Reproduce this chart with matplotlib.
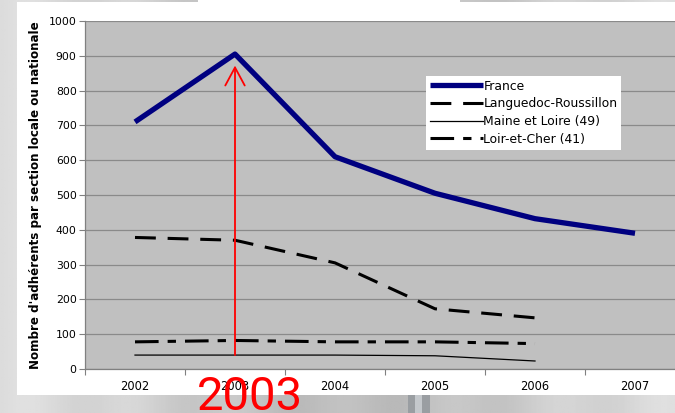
import numpy as np
import matplotlib
matplotlib.use("Agg")
import matplotlib.pyplot as plt
from matplotlib.patches import Rectangle

plt.rcParams['lines.scale_dashes'] = False
plt.rcParams['font.family'] = ['DejaVu Sans']

# ---------------- data ----------------
years = [2002, 2003, 2004, 2005, 2006, 2007]
france = [710, 905, 610, 505, 432, 390]
languedoc = [378, 370, 305, 173, 147]
maine = [40, 40, 40, 38, 23]
loir = [78, 82, 78, 78, 73]
series_labels = ["France", "Languedoc-Roussillon", "Maine et Loire (49)", "Loir-et-Cher (41)"]
y_ticks = [0, 100, 200, 300, 400, 500, 600, 700, 800, 900, 1000]
y_label = "Nombre d'adhérents par section locale ou nationale"
arrow_x = [2003, 2003]
arrow_y = [40, 872]
highlight_text = "2003"

W, H = 675, 413
fig = plt.figure(figsize=(W / 100, H / 100), dpi=100)

# background (brushed metal look)
bg = fig.add_axes([0, 0, 1, 1], zorder=-10)
gx = np.linspace(0, 1, 400)
grad = 0.80 + 0.06 * np.cos(gx * 6) + 0.02 * np.sin(gx * 40)
img = np.tile(grad, (50, 1))
bg.imshow(img, cmap='gray', vmin=0, vmax=1, aspect='auto', extent=[0, 1, 0, 1])
bg.add_patch(Rectangle((408 / W, 0), 22 / W, 18 / H, color='#9a9ea2', lw=0))
bg.add_patch(Rectangle((415 / W, 0), 7 / W, 18 / H, color='#c4c8cc', lw=0))
bg.add_patch(Rectangle((17 / W, (H - 395) / H), 1, (395 - 2) / H, color='white', lw=0))
bg.add_patch(Rectangle((198 / W, (H - 3) / H), (460 - 198) / W, 3 / H, color='white', lw=0))
bg.set_xlim(0, 1); bg.set_ylim(0, 1)
bg.axis('off')

# main axes: x from 2001.5 (px 85) to 2007.5 (px 685)
left, right = 85 / W, 685 / W
bottom, top = (H - 369) / H, (H - 21) / H
ax = fig.add_axes([left, bottom, right - left, top - bottom])
ax.set_facecolor('#c0c0c0')
ax.set_xlim(2001.5, 2007.5)
ax.set_ylim(0, 1000)
ax.set_yticks(y_ticks)
ax.set_yticklabels([str(v) for v in y_ticks], fontsize=7.8)
ax.set_xticks(years)
ax.set_xticklabels([str(y) for y in years], fontsize=8.3)
ax.set_xticks([y - 0.5 for y in years] + [2007.5], minor=True)
ax.tick_params(axis='x', which='major', length=0, pad=8)
ax.tick_params(axis='x', which='minor', length=4, color='#808080', width=0.8)
ax.tick_params(axis='y', length=4, color='#808080', width=0.8, pad=2)
ax.grid(axis='y', color='#8a8a8a', lw=0.9)
ax.set_axisbelow(True)
for s in ['top', 'right']:
    ax.spines[s].set_visible(False)
for s in ['left', 'bottom']:
    ax.spines[s].set_color('#808080')
    ax.spines[s].set_linewidth(0.9)

ax.set_ylabel(y_label, fontsize=8.6, fontweight='bold', labelpad=5)

ax.plot(years, france, color='#000080', lw=3.8, solid_capstyle='butt', label=series_labels[0], zorder=3)
ax.plot(years[:5], languedoc, color='black', lw=2.2, dashes=(15, 8.5), label=series_labels[1], zorder=3)
ax.plot(years[:5], maine, color='black', lw=0.9, label=series_labels[2], zorder=3)
ax.plot(years[:5], loir, color='black', lw=2.2, dashes=(17, 6.5, 6, 6.5), label=series_labels[3], zorder=3)

ax.annotate('', xy=(arrow_x[1], arrow_y[1]), xytext=(arrow_x[0], arrow_y[0]),
            arrowprops=dict(arrowstyle='->,head_length=1.3,head_width=0.7',
                            color='red', lw=1.3, shrinkA=0, shrinkB=0), zorder=5)

leg = ax.legend(loc='upper left', bbox_to_anchor=((426 - 85) / 600, (369 - 76) / 348),
                fontsize=8.9, handlelength=4.3, handletextpad=0.05, labelspacing=0.38,
                frameon=True, fancybox=False, borderpad=0.3, borderaxespad=0,
                framealpha=1, edgecolor='white')
leg.get_frame().set_linewidth(0)

fig.text(250 / W, 1 - 410 / H, highlight_text, color='red', fontsize=34,
         family=['Roboto', 'DejaVu Sans'],
         ha='center', va='baseline', zorder=20)

fig.savefig('out.png', dpi=100)
